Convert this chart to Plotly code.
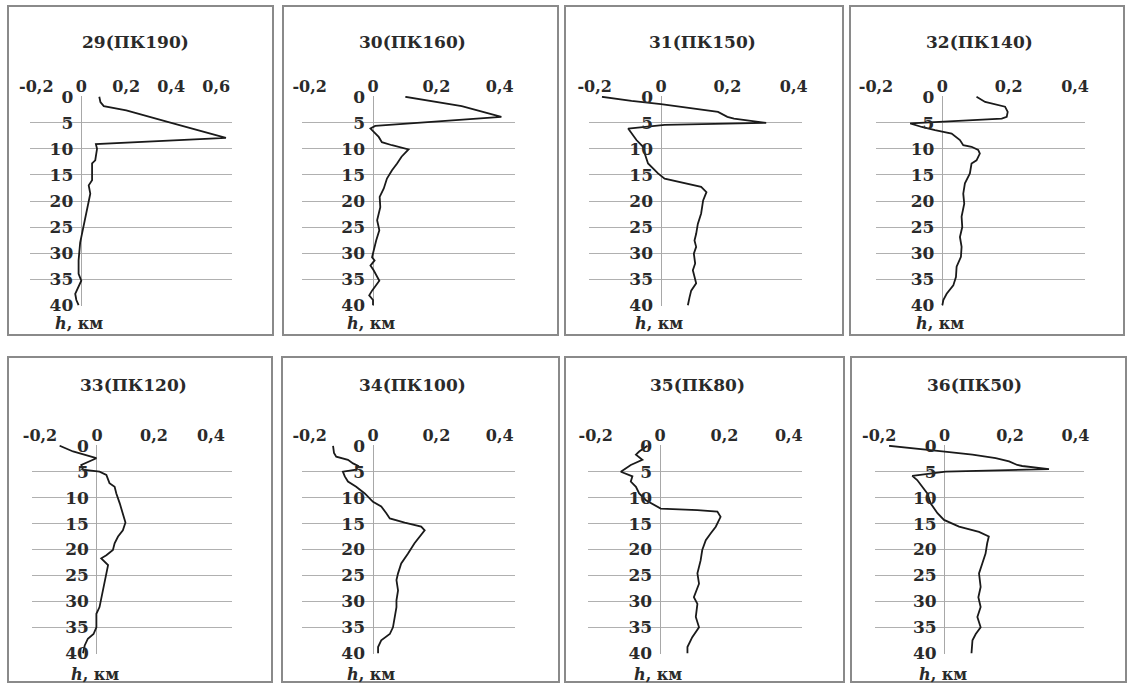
import plotly.graph_objects as go

W, H = 1128, 684

titles = ['29(ПК190)', '30(ПК160)', '31(ПК150)', '32(ПК140)',
          '33(ПК120)', '34(ПК100)', '35(ПК80)', '36(ПК50)']

depth_29 = [0, 1, 1.8, 2.6, 5, 7.9, 9.1, 10, 12.2, 12.8, 16, 17, 18.6, 20, 23, 25.6, 28, 31.4, 34, 35.3, 36.5, 37.8, 39, 40]
val_29 = [0.08, 0.085, 0.1, 0.2, 0.4, 0.643, 0.065, 0.07, 0.062, 0.048, 0.048, 0.033, 0.04, 0.033, 0.018, 0.007, -0.005, -0.012, -0.012, 0, -0.012, -0.027, -0.022, -0.012]

depth_30 = [0, 1.8, 3.85, 5.6, 6.1, 6.7, 7.7, 8.7, 9.3, 10.1, 11.5, 12.8, 14.1, 15.7, 17.6, 19.2, 21.2, 23.7, 25.6, 27.6, 29.5, 30.8, 31.4, 32.4, 33.3, 35.3, 37.2, 38.1, 39, 40]
val_30 = [0.102, 0.28, 0.405, 0.007, -0.008, 0.002, 0.018, 0.028, 0.06, 0.112, 0.09, 0.076, 0.06, 0.044, 0.034, 0.021, 0.023, 0.013, 0.02, 0.01, 0.002, -0.003, 0.005, -0.008, 0.002, 0.02, -0.003, -0.012, 0, 0]

depth_31 = [0, 0.8, 1.4, 2.2, 2.9, 3.85, 4.2, 5.0, 5.4, 6.1, 7.05, 8.3, 9.6, 10.9, 12.8, 13.8, 14.7, 15.7, 16.5, 17.3, 18.3, 19.9, 22.4, 24.4, 26.3, 27.6, 28.8, 30.1, 32, 33.3, 35.8, 37.2, 38.5, 40]
val_31 = [-0.178, -0.089, 0, 0.091, 0.172, 0.2, 0.22, 0.317, 0.011, -0.099, -0.089, -0.074, -0.054, -0.049, -0.039, -0.024, -0.009, 0.011, 0.071, 0.121, 0.137, 0.127, 0.121, 0.111, 0.106, 0.101, 0.106, 0.099, 0.103, 0.096, 0.106, 0.091, 0.086, 0.081]

depth_32 = [0, 1, 1.9, 2.9, 3.85, 4.2, 5.1, 5.8, 6.4, 7.05, 8.3, 9.3, 9.6, 10.2, 10.9, 12.2, 12.8, 14.7, 16.6, 18.6, 20.5, 23, 25, 26.9, 28.8, 30.7, 32.6, 34.6, 36.2, 37.8, 39, 40]
val_32 = [0.103, 0.129, 0.189, 0.197, 0.194, 0.179, -0.097, -0.062, -0.022, 0.028, 0.053, 0.063, 0.088, 0.108, 0.113, 0.103, 0.088, 0.083, 0.068, 0.063, 0.066, 0.058, 0.06, 0.053, 0.058, 0.056, 0.043, 0.041, 0.033, 0.013, 0.003, 0]

depth_33 = [0, 1.1, 2.4, 3.7, 4.6, 5, 5.6, 7.2, 7.9, 9.2, 11.1, 13, 14.8, 16.3, 17.5, 18.8, 20.1, 21.1, 21.7, 23, 24.6, 26.6, 29.2, 31.1, 32.4, 35, 36.3, 37.2, 38.5, 40]
val_33 = [-0.131, -0.084, -0.002, -0.055, -0.049, 0.009, 0.033, 0.044, 0.062, 0.068, 0.08, 0.091, 0.1, 0.091, 0.074, 0.062, 0.056, 0.033, 0.015, 0.039, 0.033, 0.027, 0.015, 0.009, -0.002, -0.002, -0.012, -0.032, -0.043, -0.049]

depth_34 = [0, 1.4, 2.1, 2.7, 3.4, 3.9, 4.6, 5, 5.9, 6.9, 7.9, 9.2, 10.8, 11.7, 13, 14, 14.8, 15.6, 16.3, 17.5, 18.8, 20.8, 22.7, 24.6, 25.9, 27.9, 29.8, 31.1, 33, 35, 36.3, 37.5, 38.8, 40]
val_34 = [-0.126, -0.123, -0.116, -0.079, -0.063, -0.047, -0.053, -0.095, -0.089, -0.079, -0.053, -0.026, 0, 0.026, 0.042, 0.053, 0.1, 0.152, 0.163, 0.147, 0.131, 0.11, 0.089, 0.079, 0.074, 0.079, 0.074, 0.074, 0.068, 0.063, 0.053, 0.026, 0.016, 0.016]

depth_35 = [0, 1.1, 1.7, 2.7, 3.7, 5, 5.9, 6.9, 7.9, 9.2, 10.5, 11.4, 12.1, 12.4, 12.7, 13.7, 15.6, 16.9, 18.2, 20.1, 22.1, 24.6, 26.6, 29.2, 30.5, 33, 35, 36.9, 38.8, 40]
val_35 = [-0.039, -0.065, -0.075, -0.055, -0.091, -0.122, -0.086, -0.091, -0.075, -0.065, -0.044, -0.019, 0.002, 0.116, 0.178, 0.188, 0.173, 0.157, 0.142, 0.131, 0.126, 0.116, 0.121, 0.105, 0.116, 0.111, 0.121, 0.1, 0.085, 0.085]

depth_36 = [0, 0.6, 1.1, 1.7, 2.4, 3, 3.7, 3.9, 4.5, 5, 5.8, 6.6, 7.9, 9.2, 11.1, 13, 14.3, 15.6, 16.6, 17.5, 18.8, 20.8, 22.7, 24.6, 27.2, 29.2, 31.1, 33, 35, 36.3, 37.5, 40]
val_36 = [-0.17, -0.089, -0.007, 0.085, 0.156, 0.197, 0.222, 0.237, 0.319, 0.003, -0.099, -0.084, -0.068, -0.053, -0.043, -0.022, -0.002, 0.044, 0.105, 0.135, 0.13, 0.125, 0.115, 0.105, 0.11, 0.103, 0.11, 0.1, 0.11, 0.095, 0.085, 0.082]

depths = [depth_29, depth_30, depth_31, depth_32, depth_33, depth_34, depth_35, depth_36]
values = [val_29, val_30, val_31, val_32, val_33, val_34, val_35, val_36]

x_ranges = [[-0.228, 0.67], [-0.224, 0.448], [-0.217, 0.425], [-0.2, 0.43],
            [-0.228, 0.474], [-0.224, 0.448], [-0.224, 0.441], [-0.213, 0.426]]
x_ticks = [[-0.2, 0, 0.2, 0.4, 0.6]] + [[-0.2, 0, 0.2, 0.4]] * 7
depth_ticks = [0, 5, 10, 15, 20, 25, 30, 35, 40]

# pixel layout of the panels
grid_l = [30, 302, 589, 876, 32, 302, 588, 875]
grid_r = [232, 515, 802, 1085, 232, 515, 802, 1084]
frame_l = [8, 283, 565, 850, 8, 282, 565, 851]
frame_r = [273, 558, 843, 1124, 272, 559, 844, 1126]
title_x = [135, 412, 702, 979, 133, 412, 697, 974]
row_plot = [(97, 305), (446, 653)]
row_frame = [(6, 335), (357, 682)]
row_title = [42, 385]
row_hlab = [323, 673]

FONT = 'DejaVu Serif'
TXT = '#2a2a2a'

fig = go.Figure()
for i in range(8):
    row = i // 4
    n = '' if i == 0 else str(i + 1)
    d0, d1 = grid_l[i] / W, grid_r[i] / W
    yt, yb = row_plot[row]
    r0, r1 = x_ranges[i]
    zero_pos = d0 + (0 - r0) / (r1 - r0) * (d1 - d0)

    fig.add_trace(go.Scatter(x=values[i], y=depths[i], mode='lines',
                             line=dict(color='#1a1a1a', width=1.8),
                             xaxis='x' + n, yaxis='y' + n, showlegend=False))

    fig.layout['xaxis' + n] = dict(
        domain=[d0, d1], range=x_ranges[i], anchor='y' + n, side='top',
        showgrid=False, zeroline=True, zerolinecolor='#a8a8a8', zerolinewidth=1.2,
        showline=False, tickvals=x_ticks[i], automargin=False,
        ticktext=[('%g' % v).replace('.', ',') for v in x_ticks[i]],
        tickfont=dict(family=FONT, size=16, color=TXT, weight='bold'),
        ticks='', fixedrange=True)
    fig.layout['yaxis' + n] = dict(
        domain=[1 - (yb + 1) / H, 1 - (yt - 1) / H], range=[40.15, -0.15],
        anchor='free', position=zero_pos, showgrid=True, gridcolor='#b0b0b0',
        gridwidth=1.2, zeroline=False, showline=False, tickvals=depth_ticks,
        tickfont=dict(family=FONT, size=17, color=TXT, weight='bold'),
        ticks='', ticklabelstandoff=8, automargin=False, fixedrange=True)

    fig.add_shape(type='rect', xref='paper', yref='paper',
                  x0=frame_l[i] / W, x1=frame_r[i] / W,
                  y0=1 - row_frame[row][1] / H, y1=1 - row_frame[row][0] / H,
                  line=dict(color='#8a8a8a', width=2))
    fig.add_annotation(text='<b>' + titles[i] + '</b>', xref='paper', yref='paper',
                       x=title_x[i] / W, y=1 - row_title[row] / H, showarrow=False,
                       xanchor='center', yanchor='middle',
                       font=dict(family=FONT, size=17, color=TXT))
    fig.add_annotation(text='<b><i>h</i>, км</b>', xref='paper', yref='paper',
                       x=zero_pos - 2 / W, y=1 - (row_hlab[row] + 1) / H, showarrow=False,
                       xanchor='center', yanchor='middle',
                       font=dict(family=FONT, size=16, color=TXT))

fig.update_layout(width=W, height=H, margin=dict(l=0, r=0, t=0, b=0, autoexpand=False),
                  paper_bgcolor='white', plot_bgcolor='rgba(0,0,0,0)')
fig.write_html('out.html', config={'displayModeBar': False},
               post_script="document.body.style.margin='0';")
